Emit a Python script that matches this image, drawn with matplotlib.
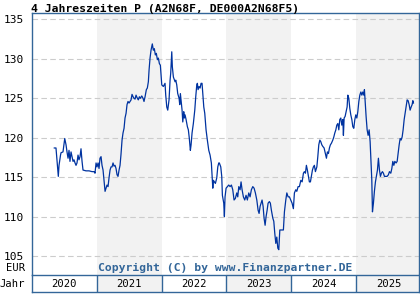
import matplotlib
matplotlib.use("Agg")
import matplotlib.pyplot as plt
import numpy as np

# ─── DATA (decimal year, price in EUR) ───────────────────────────────────────
TITLE = '4 Jahreszeiten P (A2N68F, DE000A2N68F5)'
YEARS = [2020, 2021, 2022, 2023, 2024, 2025]
Y_TICKS = [105, 110, 115, 120, 125, 130, 135]

t_2020 = [2020.344, 2020.370, 2020.406, 2020.417, 2020.440, 2020.448, 2020.478, 2020.505,
          2020.525, 2020.540, 2020.556, 2020.571, 2020.586, 2020.602, 2020.617, 2020.633,
          2020.648, 2020.664, 2020.679, 2020.694, 2020.710, 2020.725, 2020.741, 2020.756,
          2020.772, 2020.787, 2020.833, 2020.880, 2020.926, 2020.957, 2020.972, 2020.988]
p_2020 = [118.7, 118.7, 115.1, 116.5, 117.8, 118.1, 118.2, 119.9,
          119.1, 118.2, 117.4, 118.4, 117.0, 118.2, 117.6, 117.0,
          117.2, 116.8, 116.5, 116.8, 117.8, 117.2, 117.6, 118.6,
          117.0, 115.9, 115.8, 115.8, 115.7, 115.7, 115.5, 116.8]

t_2021 = [2021.003, 2021.019, 2021.034, 2021.049, 2021.065, 2021.080, 2021.096, 2021.111,
          2021.127, 2021.142, 2021.157, 2021.173, 2021.188, 2021.204, 2021.219, 2021.235,
          2021.250, 2021.265, 2021.281, 2021.296, 2021.312, 2021.327, 2021.343, 2021.358,
          2021.373, 2021.389, 2021.404, 2021.420, 2021.435, 2021.451, 2021.466, 2021.481,
          2021.497, 2021.512, 2021.528, 2021.543, 2021.559, 2021.574, 2021.590, 2021.605,
          2021.620, 2021.640, 2021.656, 2021.671, 2021.693, 2021.713, 2021.728, 2021.744,
          2021.764, 2021.779, 2021.795, 2021.806, 2021.821, 2021.836, 2021.856, 2021.872,
          2021.887, 2021.903, 2021.918, 2021.934, 2021.949, 2021.965, 2021.980, 2021.991]
p_2021 = [116.3, 116.8, 116.1, 117.4, 117.6, 116.5, 115.9, 114.6,
          113.2, 113.6, 114.0, 113.8, 114.9, 115.9, 116.3, 116.3,
          116.8, 116.4, 116.5, 116.1, 115.3, 115.1, 115.9, 116.5,
          117.9, 119.7, 120.6, 121.2, 122.5, 123.1, 124.2, 124.6,
          124.4, 124.6, 124.8, 125.5, 125.2, 125.0, 124.9, 125.4,
          125.1, 124.8, 125.2, 125.0, 125.3, 125.0, 124.6, 125.2,
          126.1, 126.3, 127.1, 128.6, 130.1, 131.1, 131.9, 131.1,
          131.3, 130.5, 130.7, 129.9, 130.1, 129.4, 129.2, 128.0]

t_2022 = [2022.002, 2022.026, 2022.052, 2022.063, 2022.079, 2022.094, 2022.114, 2022.130,
          2022.140, 2022.156, 2022.165, 2022.181, 2022.207, 2022.218, 2022.233, 2022.248,
          2022.269, 2022.279, 2022.289, 2022.299, 2022.315, 2022.326, 2022.341, 2022.350,
          2022.361, 2022.377, 2022.397, 2022.412, 2022.427, 2022.443, 2022.454, 2022.469,
          2022.489, 2022.511, 2022.526, 2022.542, 2022.551, 2022.562, 2022.577, 2022.593,
          2022.608, 2022.623, 2022.634, 2022.650, 2022.665, 2022.685, 2022.705, 2022.727,
          2022.747, 2022.767, 2022.778, 2022.789, 2022.798, 2022.813, 2022.829, 2022.850,
          2022.866, 2022.881, 2022.890, 2022.912, 2022.927, 2022.937, 2022.958, 2022.968,
          2022.978, 2022.994]
p_2022 = [126.7, 126.5, 126.9, 125.4, 123.9, 123.5, 124.8, 127.3,
          128.2, 130.9, 129.0, 127.7, 127.1, 127.3, 126.7, 125.6,
          125.0, 124.2, 125.6, 124.8, 123.5, 122.0, 123.3, 122.5,
          122.9, 122.3, 121.4, 121.0, 119.9, 118.4, 119.1, 120.6,
          121.8, 123.5, 125.2, 126.7, 126.9, 126.1, 126.5, 126.3,
          126.9, 126.9, 125.6, 123.9, 123.1, 121.0, 119.7, 118.4,
          117.8, 116.8, 115.1, 113.6, 114.6, 114.4, 114.2, 114.9,
          116.3, 116.8, 116.8, 116.3, 115.1, 112.7, 111.7, 110.0,
          112.5, 113.6]

t_2023 = [2023.014, 2023.035, 2023.056, 2023.076, 2023.097, 2023.117, 2023.137, 2023.159,
          2023.174, 2023.190, 2023.210, 2023.225, 2023.241, 2023.261, 2023.282, 2023.302,
          2023.322, 2023.344, 2023.364, 2023.384, 2023.406, 2023.426, 2023.446, 2023.468,
          2023.488, 2023.503, 2023.519, 2023.534, 2023.549, 2023.565, 2023.580, 2023.596,
          2023.611, 2023.627, 2023.642, 2023.662, 2023.677, 2023.693, 2023.715, 2023.730,
          2023.745, 2023.761, 2023.776, 2023.792, 2023.807, 2023.823, 2023.853, 2023.878,
          2023.894, 2023.915, 2023.931, 2023.951, 2023.971, 2023.992]
p_2023 = [113.8, 114.0, 113.8, 114.0, 113.4, 112.1, 112.3, 113.0,
          112.5, 113.8, 113.4, 114.4, 113.4, 112.5, 112.1, 112.7,
          112.1, 113.0, 112.5, 113.4, 113.8, 113.6, 113.0, 112.1,
          110.8, 110.4, 111.3, 111.7, 112.1, 111.3, 109.8, 108.9,
          110.0, 110.8, 111.7, 111.9, 111.7, 110.8, 109.8, 109.4,
          107.9, 106.6, 107.4, 106.0, 105.8, 108.3, 108.3, 108.3,
          110.6, 112.1, 113.0, 112.5, 112.5, 112.1]

t_2024 = [2024.012, 2024.032, 2024.048, 2024.069, 2024.085, 2024.105, 2024.125, 2024.147,
          2024.167, 2024.187, 2024.202, 2024.218, 2024.233, 2024.248, 2024.264, 2024.279,
          2024.295, 2024.310, 2024.326, 2024.341, 2024.356, 2024.372, 2024.394, 2024.409,
          2024.424, 2024.440, 2024.455, 2024.471, 2024.486, 2024.506, 2024.526, 2024.542,
          2024.557, 2024.573, 2024.588, 2024.603, 2024.619, 2024.640, 2024.656, 2024.671,
          2024.687, 2024.702, 2024.718, 2024.733, 2024.748, 2024.764, 2024.779, 2024.795,
          2024.804, 2024.815, 2024.830, 2024.846, 2024.861, 2024.872, 2024.887, 2024.903,
          2024.918, 2024.934, 2024.949, 2024.964, 2024.980, 2024.995]
p_2024 = [111.7, 111.0, 113.0, 113.4, 113.2, 113.8, 113.8, 114.6,
          114.4, 115.5, 115.7, 115.5, 116.5, 115.9, 115.1, 114.4,
          114.4, 115.1, 115.9, 116.3, 116.5, 115.7, 116.3, 117.6,
          119.1, 119.7, 119.5, 119.1, 118.9, 118.7, 118.0, 117.4,
          118.2, 118.0, 118.7, 119.1, 119.3, 119.7, 120.1, 120.6,
          121.0, 121.6, 121.8, 121.0, 122.3, 122.5, 121.6, 122.3,
          120.3, 122.5, 122.7, 123.3, 123.9, 125.4, 125.0, 123.7,
          122.9, 122.3, 121.4, 121.2, 122.3, 122.9]

t_2025 = [2025.011, 2025.026, 2025.042, 2025.057, 2025.073, 2025.088, 2025.103, 2025.119,
          2025.128, 2025.139, 2025.154, 2025.170, 2025.185, 2025.201, 2025.216, 2025.231,
          2025.242, 2025.252, 2025.267, 2025.282, 2025.298, 2025.313, 2025.329, 2025.344,
          2025.360, 2025.375, 2025.390, 2025.406, 2025.421, 2025.437, 2025.458, 2025.478,
          2025.498, 2025.514, 2025.535, 2025.551, 2025.566, 2025.582, 2025.597, 2025.617,
          2025.633, 2025.648, 2025.664, 2025.679, 2025.694, 2025.710, 2025.725, 2025.741,
          2025.756, 2025.772, 2025.787, 2025.802, 2025.818, 2025.833, 2025.849, 2025.864,
          2025.875, 2025.884]
p_2025 = [122.5, 123.3, 124.6, 125.4, 125.8, 125.4, 125.8, 125.4,
          126.1, 124.6, 122.7, 121.0, 120.3, 121.0, 119.5, 116.8,
          114.6, 110.6, 111.7, 113.2, 114.4, 115.1, 115.9, 117.4,
          115.9, 115.1, 115.5, 115.7, 115.5, 115.1, 115.1, 115.1,
          115.3, 115.7, 115.5, 116.1, 117.0, 116.5, 117.0, 116.8,
          117.0, 118.0, 119.1, 119.9, 119.7, 120.1, 121.0, 122.3,
          123.1, 123.9, 124.8, 124.7, 124.2, 123.5, 123.9, 124.2,
          124.7, 124.4]

dates = t_2020 + t_2021 + t_2022 + t_2023 + t_2024 + t_2025
prices = p_2020 + p_2021 + p_2022 + p_2023 + p_2024 + p_2025

# ─── STYLE ───────────────────────────────────────────────────────────────────
FRAME = '#336699'
LINE = '#0033a0'
SHADE = '#f2f2f2'
GRID = '#cccccc'
FONT = 'DejaVu Sans Mono'
FS = 7.6
X0, X1 = 2020.0, 2025.97

# ─── FIGURE ──────────────────────────────────────────────────────────────────
fig = plt.figure(figsize=(4.2, 3.0), dpi=100)
ax = fig.add_axes([32 / 420, 25 / 300, 387 / 420, 262 / 300])
ax_y = fig.add_axes([32 / 420, 8 / 300, 387 / 420, 17 / 300])

for axis in (ax, ax_y):
    for yr in YEARS:
        if yr % 2 == 1:
            axis.axvspan(yr, yr + 1, color=SHADE, lw=0, zorder=0)
    axis.set_xlim(X0, X1)
    for s in axis.spines.values():
        s.set_color(FRAME)
        s.set_linewidth(1.0)

# main panel
ax.set_ylim(102.59, 135.82)
for v in Y_TICKS:
    ax.axhline(v, color=GRID, lw=0.8, ls=(0, (5, 3)), zorder=1)
ax.plot(dates, prices, color=LINE, lw=0.9, zorder=3)
ax.set_xticks([])
ax.set_yticks(Y_TICKS)
ax.set_yticklabels([str(v) for v in Y_TICKS], family=FONT, fontsize=8)
ax.tick_params(axis='y', length=0, pad=6)
ax.spines['bottom'].set_visible(False)

ax.text(-0.017, 0.026, 'EUR', transform=ax.transAxes, ha='right', va='center',
        family=FONT, fontsize=FS)
ax.text(0.5, 0.028, 'Copyright (C) by www.Finanzpartner.DE', transform=ax.transAxes,
        ha='center', va='center', family=FONT, fontsize=8.2, fontweight='bold',
        color=FRAME, zorder=4)

# year row
ax_y.set_ylim(0, 1)
ax_y.set_yticks([])
ax_y.set_xticks([])
for yr in YEARS[1:]:
    ax_y.axvline(yr, color=FRAME, lw=1.0)
for yr in YEARS:
    ax_y.text(yr + 0.5, 0.45, str(yr), ha='center', va='center',
              family=FONT, fontsize=FS)
ax_y.text(-0.017, 0.45, 'Jahr', transform=ax_y.transAxes, ha='right', va='center',
          family=FONT, fontsize=FS)

fig.text(31 / 420, 1 - 9 / 300, TITLE, ha='left', va='center', family=FONT,
         fontsize=8.2, fontweight='bold')

fig.savefig('out.png', dpi=100)
